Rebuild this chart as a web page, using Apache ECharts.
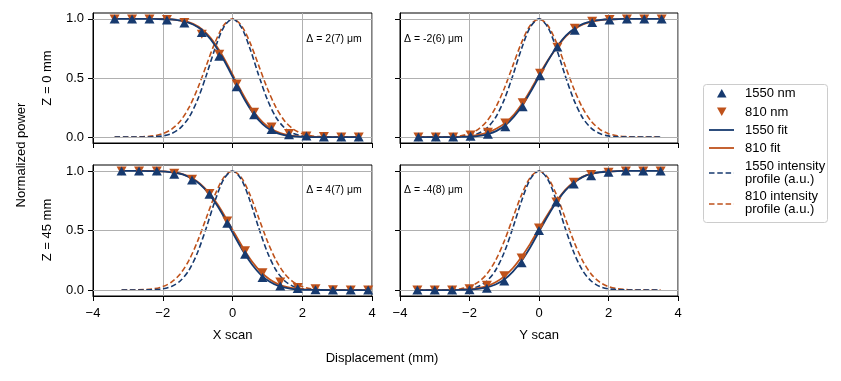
<!DOCTYPE html>
<html>
<head>
<meta charset="utf-8">
<script src="https://cdn.jsdelivr.net/npm/echarts@6/dist/echarts.min.js"></script>
<style>html,body{margin:0;padding:0;background:#fff;}#c{width:841px;height:381px;}</style>
</head>
<body>
<div id="c"></div>
<script>
// ---------- data ----------
const xTL = [-3.38,-2.88,-2.38,-1.88,-1.38,-0.88,-0.38,0.12,0.62,1.12,1.62,2.12,2.62,3.12,3.62];
const p1550_TL = [1,1,1,0.99,0.965,0.885,0.685,0.425,0.19,0.065,0.02,0.01,0,0,0];
const p810_TL  = [1,1,1,0.995,0.97,0.87,0.70,0.45,0.21,0.085,0.03,0.01,0.005,0,0];

const xTR = [-3.47,-2.97,-2.47,-1.97,-1.47,-0.97,-0.47,0.03,0.53,1.03,1.53,2.03,2.53,3.03,3.53];
const p1550_TR = [0,0,0,0.008,0.023,0.087,0.256,0.52,0.763,0.904,0.97,0.99,1,1,1];
const p810_TR  = [0,0,0,0.017,0.04,0.12,0.29,0.54,0.76,0.92,0.98,0.995,1,1,1];

const xBL = [-3.18,-2.68,-2.17,-1.67,-1.16,-0.66,-0.15,0.36,0.86,1.37,1.87,2.38,2.88,3.39,3.89];
const p1550_BL = [1,1,1,0.972,0.924,0.804,0.56,0.30,0.106,0.034,0.014,0.003,0,0,0];
const p810_BL  = [1,1,1,0.98,0.93,0.81,0.58,0.33,0.146,0.067,0.022,0.01,0.003,0,0];

const xBR = [-3.5,-3,-2.5,-2,-1.5,-1,-0.5,0,0.5,1,1.5,2,2.5,3,3.5];
const p1550_BR = [0,0,0,0.003,0.015,0.075,0.23,0.50,0.74,0.89,0.96,0.99,1,1,1];
const p810_BR  = [0,0,0,0.01,0.04,0.12,0.27,0.52,0.74,0.905,0.97,0.99,1,1,1];

// fit curves
const fitX_TL = [-3.38,-2.88,-2.38,-2.13,-1.88,-1.63,-1.38,-1.13,-0.88,-0.63,-0.38,-0.13,0.12,0.37,0.62,0.87,1.12,1.37,1.62,1.87,2.12,2.37,2.62,3.12,3.62];
const fit1550_TL = [1,1,1,0.999,0.997,0.992,0.98,0.953,0.906,0.828,0.72,0.587,0.442,0.305,0.19,0.108,0.055,0.025,0.01,0.004,0.001,0,0,0,0];
const fit810_TL  = [1,1,1,1,0.998,0.993,0.982,0.958,0.913,0.84,0.735,0.605,0.46,0.325,0.21,0.125,0.068,0.033,0.015,0.006,0.002,0.001,0,0,0];

const fitX_TR = [-3.47,-2.97,-2.47,-2.22,-1.97,-1.72,-1.47,-1.22,-0.97,-0.72,-0.47,-0.22,0.03,0.28,0.53,0.78,1.03,1.28,1.53,1.78,2.03,2.28,2.53,3.03,3.53];
const fit1550_TR = [0,0,0,0.001,0.004,0.011,0.026,0.053,0.10,0.173,0.272,0.394,0.527,0.657,0.77,0.86,0.921,0.96,0.982,0.992,0.997,0.999,1,1,1];
const fit810_TR  = [0,0,0,0.004,0.009,0.02,0.04,0.072,0.12,0.19,0.29,0.41,0.54,0.66,0.765,0.855,0.915,0.955,0.978,0.99,0.996,0.999,1,1,1];

const fitX_BL = [-3.18,-2.68,-2.18,-1.93,-1.68,-1.43,-1.18,-0.93,-0.68,-0.43,-0.18,0.07,0.32,0.57,0.82,1.07,1.32,1.57,1.82,2.07,2.32,2.82,3.32,3.89];
const fit1550_BL = [1,1,0.998,0.995,0.987,0.971,0.938,0.887,0.81,0.705,0.58,0.447,0.319,0.21,0.126,0.069,0.034,0.016,0.006,0.002,0.001,0,0,0];
const fit810_BL  = [1,1,0.999,0.996,0.989,0.974,0.943,0.893,0.818,0.72,0.60,0.47,0.345,0.235,0.15,0.088,0.048,0.024,0.011,0.005,0.002,0,0,0];

const fitX_BR = [-3.5,-3,-2.5,-2.25,-2,-1.75,-1.5,-1.25,-1,-0.75,-0.5,-0.25,0,0.25,0.5,0.75,1,1.25,1.5,1.75,2,2.25,2.5,3,3.5];
const fit1550_BR = [0,0,0,0.001,0.0045,0.0095,0.022,0.047,0.089,0.155,0.246,0.36,0.49,0.62,0.737,0.833,0.90,0.948,0.975,0.989,0.9955,0.999,1,1,1];
const fit810_BR  = [0,0,0,0.003,0.008,0.016,0.033,0.065,0.115,0.185,0.28,0.39,0.515,0.635,0.745,0.84,0.905,0.95,0.977,0.99,0.996,0.999,1,1,1];

// intensity profiles (a.u.)
const gaussX = [-3.5,-3.25,-3,-2.75,-2.5,-2.25,-2,-1.75,-1.5,-1.25,-1,-0.75,-0.5,-0.25,0,0.25,0.5,0.75,1,1.25,1.5,1.75,2,2.25,2.5,2.75,3,3.25,3.5];
const prof1550 = [0,0,0,0,0.001,0.003,0.010,0.030,0.076,0.166,0.317,0.524,0.75,0.931,1,0.931,0.75,0.524,0.317,0.166,0.076,0.030,0.010,0.003,0.001,0,0,0,0];
const prof810  = [0,0,0,0.001,0.004,0.011,0.029,0.066,0.135,0.249,0.411,0.607,0.801,0.946,1,0.946,0.801,0.607,0.411,0.249,0.135,0.066,0.029,0.011,0.004,0.001,0,0,0];

const xTicks = [-4,-2,0,2,4];
const yTicks = [0,0.5,1];
const deltaLabels = ['Δ = 2(7) μm','Δ = -2(6) μm','Δ = 4(7) μm','Δ = -4(8) μm'];
const rowLabels = ['Z = 0 mm','Z = 45 mm'];
const colLabels = ['X scan','Y scan'];
const legendLabels = ['1550 nm','810 nm','1550 fit','810 fit','1550 intensity\nprofile (a.u.)','810 intensity\nprofile (a.u.)'];

// ---------- styling ----------
const NAVY = '#173a6f';
const ORANGE = '#bf521b';
const FONT = 'Liberation Sans, Arial, sans-serif';

const panels = [
  {x: xTL, p1: p1550_TL, p8: p810_TL, fx: fitX_TL, f1: fit1550_TL, f8: fit810_TL, grid: {left: 93, top: 13, width: 279, height: 130}, xl: false, yl: true},
  {x: xTR, p1: p1550_TR, p8: p810_TR, fx: fitX_TR, f1: fit1550_TR, f8: fit810_TR, grid: {left: 400, top: 13, width: 278, height: 130}, xl: false, yl: false},
  {x: xBL, p1: p1550_BL, p8: p810_BL, fx: fitX_BL, f1: fit1550_BL, f8: fit810_BL, grid: {left: 93, top: 165, width: 279, height: 131}, xl: true, yl: true},
  {x: xBR, p1: p1550_BR, p8: p810_BR, fx: fitX_BR, f1: fit1550_BR, f8: fit810_BR, grid: {left: 400, top: 165, width: 278, height: 131}, xl: true, yl: false}
];

const zip = (xs, ys) => xs.map((x, i) => [x, ys[i]]);
function profile(xs, ys, lo, hi) {
  const pts = zip(xs, ys).filter(p => p[0] >= lo && p[0] <= hi);
  if (pts[0][0] > lo) pts.unshift([lo, pts[0][1]]);
  if (pts[pts.length - 1][0] < hi) pts.push([hi, pts[pts.length - 1][1]]);
  return pts;
}

const grids = [], xAxes = [], yAxes = [], series = [];
panels.forEach((p, i) => {
  grids.push(Object.assign({show: true, borderColor: '#000', borderWidth: 1, backgroundColor: 'transparent'}, p.grid));
  xAxes.push({
    type: 'value', gridIndex: i, min: -4, max: 4, interval: 2,
    axisLine: {show: true, onZero: false, lineStyle: {color: '#000', width: 1}},
    axisTick: {show: true, length: 5, lineStyle: {color: '#000', width: 1}},
    axisLabel: {show: p.xl, fontSize: 13, color: '#000', fontFamily: FONT, margin: 11,
      formatter: v => (v < 0 ? '\u2212' + Math.abs(v) : String(v))},
    splitLine: {show: true, lineStyle: {color: '#b0b0b0', width: 1}}
  });
  yAxes.push({
    type: 'value', gridIndex: i, min: -0.05, max: 1.05,
    axisLine: {show: true, onZero: false, lineStyle: {color: '#000', width: 1}},
    axisTick: {show: true, length: 5, customValues: yTicks, lineStyle: {color: '#000', width: 1}},
    axisLabel: {show: p.yl, customValues: yTicks, fontSize: 13, color: '#000', fontFamily: FONT, margin: 9,
      formatter: v => v.toFixed(1)},
    splitLine: {show: false}
  });
  const lo = p.x[0], hi = p.x[p.x.length - 1];
  series.push({
    type: 'line', xAxisIndex: i, yAxisIndex: i, data: [], z: 0, silent: true,
    markLine: {silent: true, symbol: 'none', label: {show: false}, animation: false,
      lineStyle: {color: '#b0b0b0', width: 1, type: 'solid'},
      data: yTicks.map(v => ({yAxis: v}))}
  });
  series.push({type: 'line', xAxisIndex: i, yAxisIndex: i, data: profile(gaussX, prof810, lo, hi), smooth: 0.3,
    showSymbol: false, lineStyle: {color: ORANGE, width: 1.6, type: [5.5, 2.8]}, z: 2});
  series.push({type: 'line', xAxisIndex: i, yAxisIndex: i, data: profile(gaussX, prof1550, lo, hi), smooth: 0.3,
    showSymbol: false, lineStyle: {color: NAVY, width: 1.6, type: [5.5, 2.8]}, z: 3});
  series.push({type: 'line', xAxisIndex: i, yAxisIndex: i, data: zip(p.fx, p.f8), smooth: 0.2,
    showSymbol: false, lineStyle: {color: ORANGE, width: 1.8}, z: 4});
  series.push({type: 'line', xAxisIndex: i, yAxisIndex: i, data: zip(p.fx, p.f1), smooth: 0.2,
    showSymbol: false, lineStyle: {color: NAVY, width: 1.8}, z: 5});
  series.push({type: 'scatter', xAxisIndex: i, yAxisIndex: i, data: zip(p.x, p.p8), symbol: 'triangle', symbolRotate: 180,
    symbolSize: [10, 9], itemStyle: {color: ORANGE, opacity: 1}, z: 6});
  series.push({type: 'scatter', xAxisIndex: i, yAxisIndex: i, data: zip(p.x, p.p1), symbol: 'triangle',
    symbolSize: [10, 9], itemStyle: {color: NAVY, opacity: 1}, z: 7});
});

const txt = (x, y, text, opts) => Object.assign({
  type: 'text', x: x, y: y, z: 100,
  style: Object.assign({text: text, font: '13px ' + FONT, fill: '#000', textAlign: 'center', textVerticalAlign: 'middle'}, opts || {})
});

const graphic = [
  // panel annotations
  txt(334, 39, deltaLabels[0], {font: '10.5px ' + FONT}),
  txt(404, 39, deltaLabels[1], {font: '10.5px ' + FONT, textAlign: 'left'}),
  txt(334, 190, deltaLabels[2], {font: '10.5px ' + FONT}),
  txt(404, 190, deltaLabels[3], {font: '10.5px ' + FONT, textAlign: 'left'}),
  // axis labels
  Object.assign(txt(21, 155, 'Normalized power'), {rotation: Math.PI / 2}),
  Object.assign(txt(47, 78, rowLabels[0]), {rotation: Math.PI / 2}),
  Object.assign(txt(47, 230, rowLabels[1]), {rotation: Math.PI / 2}),
  txt(232.5, 335, colLabels[0]),
  txt(539, 335, colLabels[1]),
  txt(382, 358, 'Displacement (mm)'),
  // legend box
  {type: 'rect', z: 90, shape: {x: 703.5, y: 84.5, width: 124, height: 138, r: 3},
    style: {fill: '#fff', stroke: '#cccccc', lineWidth: 1}},
  {type: 'polygon', z: 100, shape: {points: [[717, 97.5], [726.5, 97.5], [721.75, 89]]}, style: {fill: NAVY}},
  {type: 'polygon', z: 100, shape: {points: [[717, 107.5], [726.5, 107.5], [721.75, 116]]}, style: {fill: ORANGE}},
  {type: 'line', z: 100, shape: {x1: 709, y1: 130, x2: 734, y2: 130}, style: {stroke: NAVY, lineWidth: 1.8}},
  {type: 'line', z: 100, shape: {x1: 709, y1: 148, x2: 734, y2: 148}, style: {stroke: ORANGE, lineWidth: 1.8}},
  {type: 'line', z: 100, shape: {x1: 709, y1: 173, x2: 734, y2: 173}, style: {stroke: NAVY, lineWidth: 1.6, lineDash: [5.5, 2.8]}},
  {type: 'line', z: 100, shape: {x1: 709, y1: 204, x2: 734, y2: 204}, style: {stroke: ORANGE, lineWidth: 1.6, lineDash: [5.5, 2.8]}},
  txt(745, 93.5, legendLabels[0], {textAlign: 'left'}),
  txt(745, 112, legendLabels[1], {textAlign: 'left'}),
  txt(745, 130, legendLabels[2], {textAlign: 'left'}),
  txt(745, 148.5, legendLabels[3], {textAlign: 'left'}),
  txt(745, 172.5, legendLabels[4], {textAlign: 'left', lineHeight: 13}),
  txt(745, 203, legendLabels[5], {textAlign: 'left', lineHeight: 13})
];

const chart = echarts.init(document.getElementById('c'), null, {renderer: 'canvas'});
chart.setOption({
  animation: false,
  backgroundColor: '#fff',
  grid: grids,
  xAxis: xAxes,
  yAxis: yAxes,
  series: series,
  graphic: graphic
});
</script>
</body>
</html>
